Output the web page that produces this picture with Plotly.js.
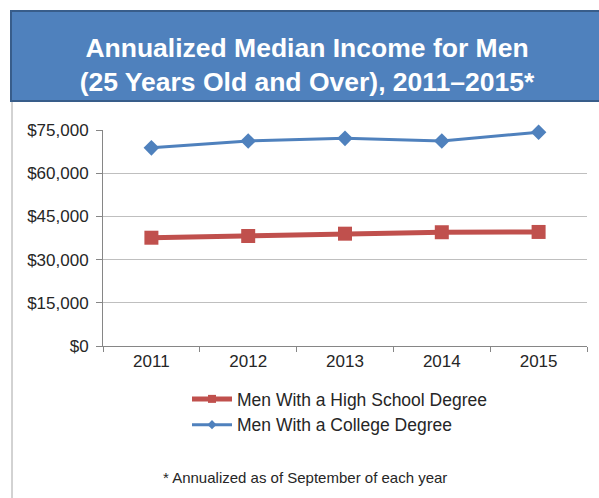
<!DOCTYPE html>
<html>
<head>
<meta charset="utf-8">
<script src="https://cdn.plot.ly/plotly-3.0.1.min.js"></script>
<style>html,body{margin:0;padding:0;background:#fff;}#chart{width:599px;height:498px;}</style>
</head>
<body>
<div id="chart"></div>
<script>
// ---- data ----
const years = ["2011", "2012", "2013", "2014", "2015"];
const highSchool = [37600, 38200, 39000, 39500, 39600];
const college = [68800, 71200, 72100, 71200, 74200];
const seriesNames = ["Men With a High School Degree", "Men With a College Degree"];
const titleText = "Annualized Median Income for Men<br>(25 Years Old and Over), 2011\u20132015*";
const footnote = "* Annualized as of September of each year";

// ---- layout helpers (pixel -> paper) ----
const W = 599, H = 498;
const M = {l: 103, r: 12, t: 130, b: 152};
const PW = W - M.l - M.r, PH = H - M.t - M.b;
const px = x => (x - M.l) / PW;
const py = y => (H - M.b - y) / PH;

const font = "Liberation Sans, Arial, sans-serif";
const red = "#c0504d", blue = "#4f81bd";

const traces = [
  {
    x: years, y: highSchool, name: seriesNames[0], type: "scatter", mode: "lines+markers",
    line: {color: red, width: 5},
    marker: {symbol: "square", size: 14, color: red},
    cliponaxis: false,
    showlegend: false
  },
  {
    x: years, y: college, name: seriesNames[1], type: "scatter", mode: "lines+markers",
    line: {color: blue, width: 3},
    marker: {symbol: "diamond", size: 12, color: blue},
    cliponaxis: false,
    showlegend: false
  },
  // legend entries (smaller symbols, as in the reference legend)
  {
    x: [null], y: [null], name: seriesNames[0], type: "scatter", mode: "lines+markers",
    line: {color: red, width: 5},
    marker: {symbol: "square", size: 8, color: red},
    showlegend: true
  },
  {
    x: [null], y: [null], name: seriesNames[1], type: "scatter", mode: "lines+markers",
    line: {color: blue, width: 3},
    marker: {symbol: "diamond", size: 7, color: blue},
    showlegend: true
  }
];

const layout = {
  width: W, height: H,
  margin: M,
  paper_bgcolor: "#ffffff", plot_bgcolor: "#ffffff",
  font: {family: font, color: "#262626", size: 17},
  showlegend: true,
  title: {
    text: titleText,
    font: {family: font, size: 26.5, color: "#ffffff", weight: "bold"},
    x: 307 / W, xanchor: "center", xref: "container",
    y: 1 - 57 / H, yanchor: "middle", yref: "container"
  },
  xaxis: {
    type: "category",
    range: [-0.5, 4.5],
    tickson: "boundaries",
    ticks: "outside", ticklen: 5, tickcolor: "#868686",
    showline: true, linecolor: "#868686", linewidth: 1,
    showgrid: false, zeroline: false,
    tickfont: {size: 17, color: "#262626"},
    fixedrange: true
  },
  yaxis: {
    range: [0, 75000], dtick: 15000, tick0: 0,
    tickprefix: "$", tickformat: ",d",
    ticks: "outside", ticklen: 6, tickcolor: "#868686",
    ticklabelstandoff: 4,
    showline: true, linecolor: "#868686", linewidth: 1,
    showgrid: true, gridcolor: "#bfbfbf", gridwidth: 1,
    zeroline: false,
    tickfont: {size: 17, color: "#262626"},
    fixedrange: true
  },
  legend: {
    x: px(187), xanchor: "left",
    y: py(381), yanchor: "top",
    orientation: "v",
    itemwidth: 40,
    font: {size: 17.5, color: "#262626"},
    bgcolor: "rgba(0,0,0,0)",
    traceorder: "normal"
  },
  shapes: [
    {type: "rect", xref: "paper", yref: "paper",
     x0: px(11), x1: px(602), y0: py(101), y1: py(11),
     fillcolor: blue, line: {color: "#385d8a", width: 2}, layer: "below"},
    {type: "line", xref: "paper", yref: "paper",
     x0: px(12), x1: px(12), y0: py(102), y1: py(500),
     line: {color: "#a6a6a6", width: 1}}
  ],
  annotations: [
    {text: footnote, xref: "paper", yref: "paper", x: px(305), y: py(477),
     xanchor: "center", yanchor: "middle", showarrow: false,
     font: {size: 15, color: "#262626"}}
  ]
};

Plotly.newPlot("chart", traces, layout, {staticPlot: true, displayModeBar: false});
</script>
</body>
</html>
